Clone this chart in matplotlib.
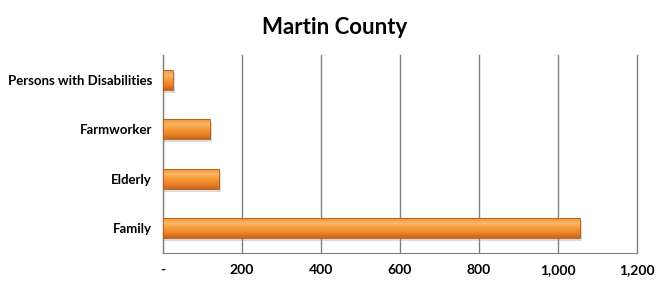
import matplotlib.pyplot as plt
import numpy as np
from matplotlib.colors import LinearSegmentedColormap
from matplotlib.ticker import FuncFormatter


TITLE = "Martin County"
CATEGORIES = ["Family", "Elderly", "Farmworker", "Persons with Disabilities"]
VALUES = [1056, 142, 119, 25]
X_TICKS = [0, 200, 400, 600, 800, 1000, 1200]

BAR_HEIGHT = 0.4
FONT = ["Lato", "DejaVu Sans"]

plt.rcParams["font.family"] = FONT

orange = LinearSegmentedColormap.from_list(
    "orange", ["#C9651A", "#EE8328", "#F59A38", "#FBB868", "#F39232"]
)
gradient = np.linspace(0, 1, 64).reshape(-1, 1)

fig = plt.figure(figsize=(6.7, 2.88), dpi=100)
ax = fig.add_axes([0.2433, 0.1215, 0.7074, 0.6875])

y_pos = np.arange(len(CATEGORIES))
bars = ax.barh(y_pos, VALUES, height=BAR_HEIGHT, color="none", zorder=3)

for bar in bars:
    x0, y0 = bar.get_x(), bar.get_y()
    w, h = bar.get_width(), bar.get_height()
    # soft shadow under the bar
    ax.barh(y0 + h / 2 - 0.06, w + 5, height=h, left=x0,
            color="#9a9a9a", alpha=0.35, zorder=2, linewidth=0)
    ax.imshow(gradient, cmap=orange, aspect="auto", zorder=3,
              extent=[x0, x0 + w, y0, y0 + h], origin="lower")
    ax.add_patch(plt.Rectangle((x0, y0), w, h, fill=False,
                               edgecolor="#B05A18", linewidth=0.6, zorder=4))

ax.set_xlim(0, 1200)
ax.set_ylim(-0.5, len(CATEGORIES) - 0.5)
ax.set_xticks(X_TICKS)
ax.xaxis.set_major_formatter(
    FuncFormatter(lambda v, _: "-" if v == 0 else f"{v:,.0f}")
)
ax.set_yticks(y_pos)
ax.set_yticklabels(CATEGORIES)

ax.grid(axis="x", color="#808080", linewidth=1, zorder=0)
for line in ax.get_xgridlines():
    line.set_clip_on(False)
ax.set_axisbelow(True)
for side in ["top", "right"]:
    ax.spines[side].set_visible(False)
ax.spines["left"].set_color("#808080")
ax.spines["bottom"].set_color("#808080")
ax.tick_params(axis="both", length=0, pad=8)
ax.tick_params(axis="x", labelsize=10)
ax.tick_params(axis="y", labelsize=9.5)
for label in ax.get_xticklabels() + ax.get_yticklabels():
    label.set_fontweight("bold")

fig.text(0.5, 0.905, TITLE, ha="center", va="center",
         fontsize=16, fontweight="bold")

fig.savefig("out.png", dpi=100)
